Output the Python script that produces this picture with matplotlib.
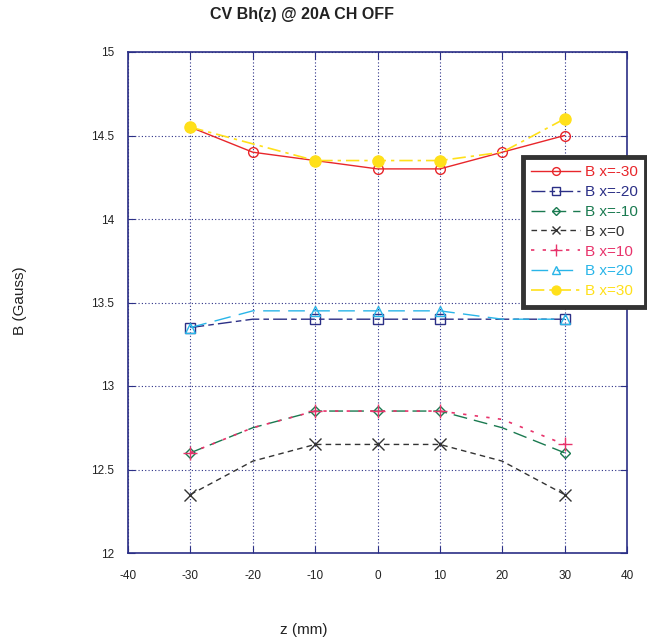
import matplotlib.pyplot as plt
import numpy as np

plt.rcParams['font.family'] = ['Liberation Sans', 'DejaVu Sans']
plt.rcParams['axes.unicode_minus'] = False

# z positions (mm)
z = np.array([-30, -20, -10, 0, 10, 20, 30])

# B (Gauss) for each x position
b_m30 = [14.55, 14.40, 14.35, 14.30, 14.30, 14.40, 14.50]
b_m20 = [13.35, 13.40, 13.40, 13.40, 13.40, 13.40, 13.40]
b_m10 = [12.60, 12.75, 12.85, 12.85, 12.85, 12.75, 12.60]
b_0 = [12.35, 12.55, 12.65, 12.65, 12.65, 12.55, 12.35]
b_10 = [12.60, 12.75, 12.85, 12.85, 12.85, 12.80, 12.65]
b_20 = [13.35, 13.45, 13.45, 13.45, 13.45, 13.40, 13.40]
b_30 = [14.55, 14.45, 14.35, 14.35, 14.35, 14.40, 14.60]

labels = ['B x=-30', 'B x=-20', 'B x=-10', 'B x=0', 'B x=10', 'B x=20', 'B x=30']

navy = '#2b2f86'
txt = '#222222'
some = [0, 2, 3, 4, 6]

fig = plt.figure(figsize=(6.47, 6.43), dpi=100)
ax = fig.add_axes([128 / 647, 1 - 553 / 643, (627 - 128) / 647, (553 - 52) / 643])

ax.plot(z, b_m30, '-', color='#e8262b', lw=1, marker='o', ms=7, mfc='none', mew=1, label=labels[0])
ax.plot(z, b_m20, color=navy, lw=1, dashes=(10, 3, 4, 3), marker='s', ms=7, mfc='none',
        mew=1, markevery=some, label=labels[1])
ax.plot(z, b_m10, color='#1a7a50', lw=1, dashes=(10, 5), marker='D', ms=5, mfc='none',
        mew=1, markevery=some, label=labels[2])
ax.plot(z, b_0, color='#333333', lw=1, dashes=(4, 3), marker='x', ms=8, mew=1,
        markevery=some, label=labels[3])
ax.plot(z, b_10, color='#e8336b', lw=1.2, dashes=(2, 5), marker='+', ms=10, mew=1,
        markevery=some, label=labels[4])
ax.plot(z, b_20, color='#29b5e8', lw=1, dashes=(12, 6), marker='^', ms=7, mfc='none',
        mew=1, markevery=some, label=labels[5])
ax.plot(z, b_30, color='#ffe01a', lw=1.2, dashes=(8, 3, 2, 3), marker='o', ms=8,
        markevery=some, label=labels[6])

ax.set_xlim(-40, 40)
ax.set_ylim(12, 15)
ax.set_xticks(np.arange(-40, 41, 10))
ax.set_yticks([12, 12.5, 13, 13.5, 14, 14.5, 15])
ax.set_yticklabels(['12', '12.5', '13', '13.5', '14', '14.5', '15'])
ax.grid(True, color=navy, ls=(0, (1, 2)), lw=0.8)
ax.tick_params(direction='in', color=navy, length=5, labelsize=8.5, labelcolor=txt,
               top=True, right=True)
ax.tick_params(axis='x', pad=12)
ax.tick_params(axis='y', pad=10)
for s in ax.spines.values():
    s.set_color(navy)
    s.set_linewidth(1.2)

fig.text(302 / 647, 1 - 15 / 643, 'CV Bh(z) @ 20A CH OFF', fontsize=11.5, fontweight='bold',
         color=txt, ha='center', va='center')
fig.text(304 / 647, 1 - 630 / 643, 'z (mm)', fontsize=11, color=txt, ha='center', va='center')
fig.text(20 / 647, 1 - 301 / 643, 'B (Gauss)', fontsize=11, color=txt, ha='center', va='center',
         rotation=90)

leg = fig.legend(loc='upper left', bbox_to_anchor=(523 / 647, 1 - 157 / 643), fontsize=11,
                 fancybox=False, framealpha=1, handlelength=3.2, handletextpad=0.3,
                 borderaxespad=0, labelspacing=0.38, borderpad=0.55, markerscale=0.8)
leg.get_frame().set_edgecolor('#333333')
leg.get_frame().set_linewidth(3.5)
for t, line in zip(leg.get_texts(), leg.get_lines()):
    t.set_color(line.get_color())

fig.savefig('out.png', dpi=100)
